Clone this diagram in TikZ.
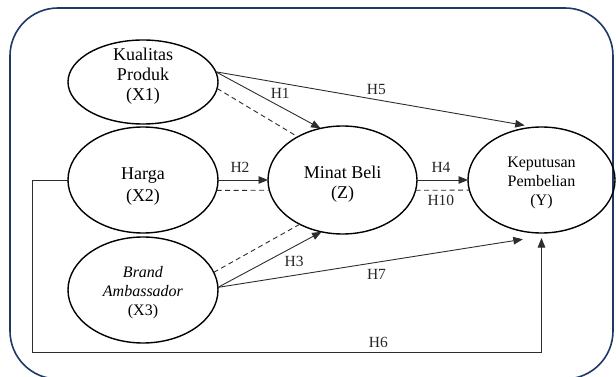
\documentclass[tikz,border=0pt]{standalone}
\usepackage{fontspec}
\setmainfont{Liberation Serif}
\usetikzlibrary{shapes.geometric,arrows.meta,positioning,calc}
\definecolor{framenavy}{RGB}{31,56,100}
\definecolor{linegray}{RGB}{45,45,45}

\begin{document}
\begin{tikzpicture}[x=1pt, y=-1pt, >={Triangle[length=9.5pt,width=7.5pt]}]
\tikzstyle{var}=[ellipse, draw=black, line width=1.4pt, inner sep=0pt, outer sep=0pt, minimum width=150pt]
\tikzstyle{vartext}=[align=center, inner sep=0pt, font=\fontsize{18}{20}\selectfont]
\tikzstyle{vartextsmall}=[vartext, font=\fontsize{16}{19}\selectfont]
\tikzstyle{link}=[draw=linegray, line width=0.9pt]
\tikzstyle{mediated}=[link, dash pattern=on 5pt off 3.5pt]
\tikzstyle{hyp}=[font=\fontsize{15.5}{17}\selectfont, inner sep=1pt, text=black!85]

\useasboundingbox (0,0) rectangle (616,377);
\draw[framenavy, line width=1.6pt, rounded corners=48pt] (10,8) rectangle (613,379);

% variables
\node[var, minimum height=84pt, label={[vartext, yshift=6pt]center:{Kualitas\\Produk\\(X1)}}]
    (x1) at (143,82) {};
\node[var, minimum height=106pt, label={[vartext, yshift=-7pt, font=\fontsize{18}{22}\selectfont]center:{Harga\\(X2)}}]
    (x2) at (143,180) {};
\node[var, minimum height=106pt, label={[vartextsmall, yshift=-3pt]center:{\textit{Brand}\\\textit{Ambassador}\\(X3)}}]
    (x3) at (143,290) {};
\node[var, minimum width=149pt, minimum height=108pt, label={[vartext, yshift=-4pt]center:{Minat Beli\\(Z)}}]
    (z) at (342.5,180) {};
\node[var, minimum width=147pt, minimum height=106pt, label={[vartextsmall, yshift=-3pt]center:{Keputusan\\Pembelian\\(Y)}}]
    (y) at (541.5,180) {};
\coordinate (h6) at (32,352);

% direct paths
\draw[link,->] (x1.8) -- (z.113) node[hyp, pos=0.615, yshift=13pt] {H1};
\draw[link,->] (x1.8) -- ([yshift=3pt]y.108) node[hyp, pos=0.52, yshift=10pt] {H5};
\draw[link,->] (x2.east) -- (z.west) node[hyp, pos=0.44, yshift=13pt] {H2};
\draw[link,->] (x3.2) -- (z.248) node[hyp, pos=0.735, yshift=-15pt] {H3};
\draw[link,->] (x3.2) -- ([yshift=-8pt]y.250) node[hyp, pos=0.52, yshift=-12pt] {H7};
\draw[link,->] (z.east) -- (y.west) node[hyp, pos=0.47, yshift=13pt] {H4};
\draw[link,->] (x2.west) -| (h6) -| ([yshift=-5pt]y.south) node[hyp, pos=0.34, yshift=10pt] {H6};

% mediated paths
\draw[mediated] (x1.-5) -- (z.136);
\draw[mediated] (x2.-8.5) -- (z.188.5);
\draw[mediated] (x3.14) -- (z.226);
\draw[mediated] (z.-8.5) -- (y.188.5) node[hyp, pos=0.47, yshift=-10pt] {H10};
\end{tikzpicture}
\end{document}
